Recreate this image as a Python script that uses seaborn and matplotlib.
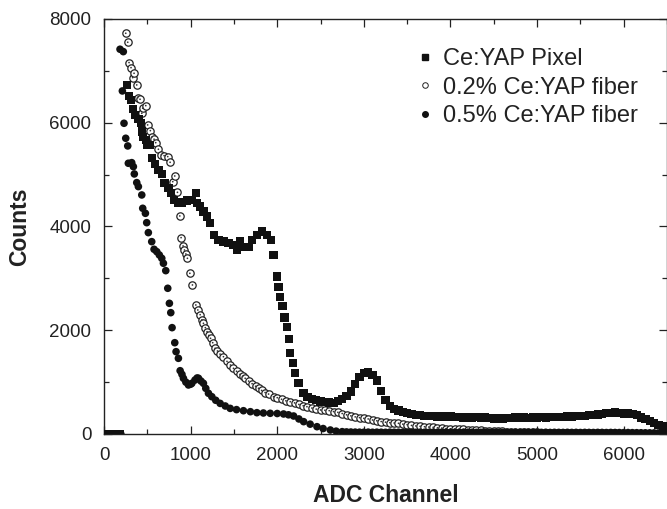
import numpy as np
import pandas as pd
import matplotlib
matplotlib.use("Agg")
import matplotlib.pyplot as plt
import seaborn as sns
from matplotlib.ticker import MultipleLocator
from matplotlib.lines import Line2D

# ---------------- data ----------------
zero_x = [0, 20, 40, 60, 80, 100, 120, 140, 160, 180]
zero_y = [0, 0, 0, 0, 0, 0, 0, 0, 0, 0]

# Ce:YAP Pixel
pix_head_x = [262, 289, 312, 335, 358, 397, 424, 436, 454, 482, 493, 524, 551, 590,
              628, 667, 697, 743, 771, 809, 852, 898, 956, 1014, 1060, 1071, 1110,
              1148, 1187, 1225, 1272, 1321, 1379, 1437, 1495, 1534, 1572, 1610, 1668,
              1707, 1765, 1823, 1880, 1927, 1957, 1996, 2015, 2035, 2062, 2085, 2112,
              2135, 2150, 2181, 2208, 2247, 2305]
pix_head_y = [6729, 6517, 6440, 6260, 6150, 6073, 6000, 5829, 5720, 5668, 5572, 5572,
              5315, 5205, 5090, 5007, 4833, 4737, 4641, 4512, 4448, 4460, 4498, 4512,
              4641, 4448, 4383, 4286, 4190, 4062, 3837, 3740, 3708, 3688, 3644, 3547,
              3708, 3611, 3611, 3740, 3837, 3901, 3837, 3740, 3451, 3033, 2840, 2647,
              2468, 2243, 2069, 1826, 1556, 1363, 1170, 977, 785]
pix_tail_x = list(range(2350, 6501, 50))
pix_tail_y = [710, 680, 650, 625, 612, 608, 604, 635, 680, 735, 820, 960, 1100, 1180,
              1185, 1140, 1030, 830, 660, 540, 480, 450, 420, 400, 385, 370, 360, 350,
              345, 348, 338, 342, 334, 336, 328, 332, 320, 325, 318, 322, 310, 315, 306,
              302, 310, 300, 312, 305, 316, 308, 318, 312, 320, 316, 325, 321, 330, 326,
              334, 330, 338, 336, 345, 347, 352, 360, 368, 378, 390, 400, 410, 412, 404,
              396, 392, 386, 360, 320, 285, 250, 210, 175, 150, 120]

# 0.2% Ce:YAP fiber
f2_head_x = [251, 274, 289, 312, 331, 347, 378, 390, 416, 436, 447, 482, 504, 535, 551,
             578, 597, 628, 663, 694, 736, 763, 794, 817, 848, 875, 890, 913, 929, 945,
             963, 991, 1021, 1060, 1083, 1110, 1130, 1148, 1170, 1190, 1210, 1230, 1255,
             1283, 1310, 1340, 1379, 1420, 1460, 1495, 1530, 1570, 1600, 1630, 1670,
             1710, 1750, 1784, 1820, 1860, 1900, 1957, 2000, 2050, 2100, 2150, 2200,
             2250, 2300, 2343]
f2_head_y = [7725, 7552, 7160, 7062, 6870, 6954, 6729, 6484, 6453, 6183, 6280, 6330,
             5958, 5848, 5720, 5682, 5616, 5489, 5385, 5366, 5347, 5238, 4864, 4974,
             4659, 4203, 3785, 3625, 3547, 3470, 3387, 3098, 2873, 2487, 2391, 2300,
             2200, 2134, 2050, 1972, 1900, 1845, 1760, 1652, 1600, 1540, 1490, 1400,
             1330, 1266, 1210, 1150, 1110, 1074, 1020, 970, 920, 881, 840, 800, 770,
             719, 700, 670, 640, 623, 600, 570, 545, 526]
f2_tail_x = list(range(2400, 6501, 50))
f2_tail_y = [500, 480, 463, 458, 450, 432, 418, 395, 370, 350, 330, 315, 302, 290, 270,
             255, 240, 228, 218, 212, 206, 190, 180, 165, 155, 148, 140, 134, 129, 120,
             115, 105, 100, 95, 92, 88, 84, 80, 77, 70, 66, 62, 58, 55, 52, 48, 45, 42,
             40, 38, 35, 32, 30, 28, 26, 24, 22, 20, 19, 18, 17, 16, 15, 15, 14, 13, 12,
             12, 11, 10, 10, 9, 9, 8, 8, 8, 7, 7, 6, 6, 5, 5, 5]

# 0.5% Ce:YAP fiber
f5_head_x = [185, 212, 223, 231, 251, 274, 281, 320, 339, 350, 378, 397, 436, 447, 478,
             493, 512, 551, 578, 609, 639, 667, 686, 713, 736, 755, 771, 786, 817, 832,
             859, 879, 900, 917, 945, 975, 1000, 1014, 1050, 1075, 1091, 1120, 1148,
             1175, 1206, 1245, 1290, 1341, 1400, 1457, 1530, 1610, 1690, 1765, 1840,
             1919, 2000, 2073, 2130, 2189, 2250, 2305, 2380, 2459, 2530, 2613, 2680]
f5_head_y = [7417, 6613, 7371, 5990, 5701, 5553, 5219, 5231, 5154, 5013, 4846, 4769,
             4608, 4351, 4254, 4074, 3882, 3708, 3561, 3515, 3451, 3387, 3291, 3149,
             2809, 2519, 2339, 2050, 1760, 1587, 1459, 1220, 1150, 1074, 1000, 945, 960,
             977, 1040, 1080, 1074, 1020, 977, 880, 785, 719, 650, 590, 540, 494, 470,
             449, 430, 411, 405, 399, 395, 386, 370, 347, 290, 238, 190, 141, 105, 77, 55]
f5_tail_x = list(range(2750, 6501, 50))
f5_tail_y = [45, 40, 38, 36, 35, 34, 36, 33, 35, 34, 32, 35, 33, 34, 32, 33, 35, 32, 34,
             33, 31, 34, 32, 33, 35, 32, 33, 31, 34, 32, 33, 31, 32, 34, 31, 33, 32, 30,
             33, 31, 32, 30, 33, 31, 32, 30, 31, 33, 30, 32, 31, 30, 32, 30, 31, 29, 31,
             30, 29, 31, 30, 28, 30, 29, 28, 27, 28, 26, 25, 24, 23, 22, 21, 20, 19, 18]

x_ticks = [0, 1000, 2000, 3000, 4000, 5000, 6000]
y_ticks = [0, 2000, 4000, 6000, 8000]
labels = ["Ce:YAP Pixel", "0.2% Ce:YAP fiber", "0.5% Ce:YAP fiber"]

pix = pd.DataFrame({"x": zero_x + pix_head_x + pix_tail_x,
                    "y": zero_y + pix_head_y + pix_tail_y})
f2 = pd.DataFrame({"x": zero_x + f2_head_x + f2_tail_x,
                   "y": zero_y + f2_head_y + f2_tail_y})
f5 = pd.DataFrame({"x": zero_x + f5_head_x + f5_tail_x,
                   "y": zero_y + f5_head_y + f5_tail_y})

# ---------------- plot ----------------
sns.set_style("ticks")
plt.rcParams['font.family'] = ['Liberation Sans', 'DejaVu Sans']

fig = plt.figure(figsize=(6.67, 5.09), dpi=100)
ax = fig.add_axes([104 / 667, 75 / 509, 563 / 667, 415 / 509])

sns.scatterplot(data=f2, x="x", y="y", ax=ax, marker="o", s=28, color="white",
                edgecolor="#222222", linewidth=0.9, legend=False, zorder=2)
sns.scatterplot(data=f2, x="x", y="y", ax=ax, marker="o", s=1.5, color="#333333",
                edgecolor="none", linewidth=0, legend=False, zorder=2.1)
sns.scatterplot(data=pix, x="x", y="y", ax=ax, marker="s", s=36, color="#111111",
                edgecolor="none", linewidth=0, legend=False, zorder=3)
sns.scatterplot(data=f5, x="x", y="y", ax=ax, marker="o", s=30, color="#111111",
                edgecolor="none", linewidth=0, legend=False, zorder=4)

ax.set_xlim(0, 6500)
ax.set_ylim(0, 8000)
ax.set_xticks(x_ticks)
ax.set_yticks(y_ticks)
ax.xaxis.set_minor_locator(MultipleLocator(500))
ax.yaxis.set_minor_locator(MultipleLocator(1000))
ax.tick_params(which="both", direction="in", top=True, right=True, color="#222222",
               width=0.9, labelsize=13.5, labelcolor="#222222", pad=9)
ax.tick_params(which="major", length=6)
ax.tick_params(which="minor", length=3.5)
for sp in ax.spines.values():
    sp.set_color("#222222")
    sp.set_linewidth(1.0)

ax.set_xlabel("ADC Channel", fontsize=16.5, fontweight="bold", color="#222222", labelpad=15)
ax.set_ylabel("Counts", fontsize=16.5, fontweight="bold", color="#222222", labelpad=13)

handles = [
    Line2D([], [], ls="", marker="s", markersize=4, color="#111111"),
    Line2D([], [], ls="", marker="o", markersize=4, markerfacecolor="white",
           markeredgecolor="#222222", markeredgewidth=0.7),
    Line2D([], [], ls="", marker="o", markersize=4, color="#111111"),
]
ax.legend(handles, labels, loc="upper left",
          bbox_to_anchor=(418 / 667, 1 - 48 / 509), bbox_transform=fig.transFigure,
          frameon=False, fontsize=17, handlelength=0.6, handletextpad=0.45,
          labelspacing=0.28, borderaxespad=0.0, borderpad=0.0, labelcolor="#222222")

fig.savefig("out.png", dpi=100)
